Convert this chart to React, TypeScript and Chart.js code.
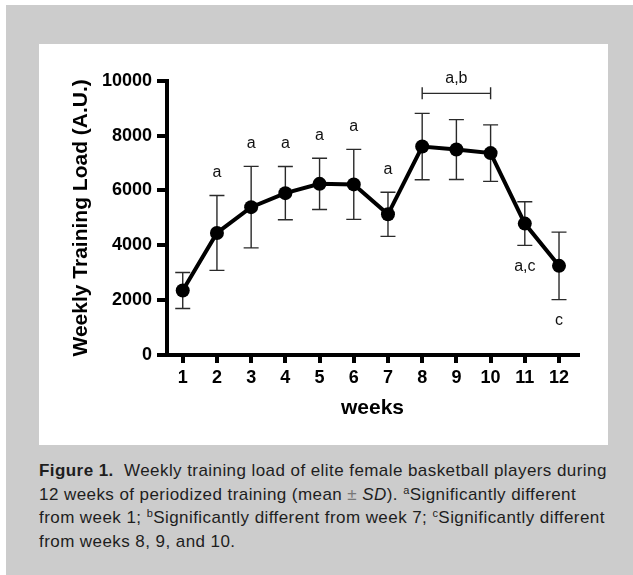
import React, { useEffect, useRef } from "react";
import { Chart, registerables } from "chart.js";

Chart.register(...registerables);

// ---- data ----
const weeks = [1, 2, 3, 4, 5, 6, 7, 8, 9, 10, 11, 12];
const meanLoad = [2350, 4450, 5390, 5900, 6240, 6220, 5130, 7600, 7490, 7360, 4790, 3250];
const sdLoad = [655, 1365, 1485, 970, 935, 1275, 805, 1210, 1090, 1030, 795, 1230];
const sigLabels = ["", "a", "a", "a", "a", "a", "a", "", "", "", "a,c", "c"];
const sigBelow = [false, false, false, false, false, false, false, false, false, false, true, true];
const bracketWeeks = [8, 10];
const bracketLabel = "a,b";
const yTicks = [0, 2000, 4000, 6000, 8000, 10000];

const FONT = "'Liberation Sans', Arial, Helvetica, sans-serif";

const errorBarPlugin = {
  id: "errorBarsAndLabels",
  beforeDatasetsDraw(chart: any) {
    const { ctx, scales } = chart;
    const x = scales.x;
    const y = scales.y;
    ctx.save();
    ctx.strokeStyle = "#2a2a2a";
    ctx.lineWidth = 1.4;
    weeks.forEach((w, i) => {
      const px = x.getPixelForValue(w);
      const top = y.getPixelForValue(meanLoad[i] + sdLoad[i]);
      const bot = y.getPixelForValue(meanLoad[i] - sdLoad[i]);
      ctx.beginPath();
      ctx.moveTo(px, top);
      ctx.lineTo(px, bot);
      ctx.moveTo(px - 7.5, top);
      ctx.lineTo(px + 7.5, top);
      ctx.moveTo(px - 7.5, bot);
      ctx.lineTo(px + 7.5, bot);
      ctx.stroke();
    });
    ctx.restore();
  },
  afterDatasetsDraw(chart: any) {
    const { ctx, scales } = chart;
    const x = scales.x;
    const y = scales.y;
    ctx.save();
    ctx.fillStyle = "#111";
    ctx.font = `16px ${FONT}`;
    ctx.textAlign = "center";
    ctx.textBaseline = "middle";
    weeks.forEach((w, i) => {
      const lab = sigLabels[i];
      if (!lab) return;
      const px = x.getPixelForValue(w);
      if (sigBelow[i]) {
        const bot = y.getPixelForValue(meanLoad[i] - sdLoad[i]);
        ctx.fillText(lab, px, bot + 21);
      } else {
        const top = y.getPixelForValue(meanLoad[i] + sdLoad[i]);
        ctx.fillText(lab, px, top - 22.5);
      }
    });
    // bracket
    const i0 = weeks.indexOf(bracketWeeks[0]);
    const i1 = weeks.indexOf(bracketWeeks[1]);
    let topMost = Infinity;
    for (let i = i0; i <= i1; i++) {
      topMost = Math.min(topMost, y.getPixelForValue(meanLoad[i] + sdLoad[i]));
    }
    const by = topMost - 20;
    const bx0 = x.getPixelForValue(bracketWeeks[0]);
    const bx1 = x.getPixelForValue(bracketWeeks[1]);
    ctx.strokeStyle = "#2a2a2a";
    ctx.lineWidth = 1.4;
    ctx.beginPath();
    ctx.moveTo(bx0, by);
    ctx.lineTo(bx1, by);
    ctx.moveTo(bx0, by - 6);
    ctx.lineTo(bx0, by + 6);
    ctx.moveTo(bx1, by - 6);
    ctx.lineTo(bx1, by + 6);
    ctx.stroke();
    ctx.fillText(bracketLabel, (bx0 + bx1) / 2, by - 15);
    ctx.restore();
  },
};

function ChartPanel() {
  const ref = useRef<HTMLCanvasElement | null>(null);
  useEffect(() => {
    if (!ref.current) return;
    const chart = new Chart(ref.current, {
      type: "line",
      data: {
        datasets: [
          {
            data: weeks.map((w, i) => ({ x: w, y: meanLoad[i] })),
            borderColor: "#000",
            backgroundColor: "#000",
            borderWidth: 4,
            pointRadius: 7,
            pointBackgroundColor: "#000",
            pointBorderWidth: 0,
            tension: 0,
          },
        ],
      },
      options: {
        animation: false,
        responsive: false,
        devicePixelRatio: 1,
        layout: { padding: { left: 0, right: 30, top: 36.7, bottom: 0 } },
        plugins: { legend: { display: false }, tooltip: { enabled: false } },
        scales: {
          x: {
            type: "linear",
            min: 0.54,
            max: 12.555,
            afterBuildTicks: (s: any) => {
              s.ticks = weeks.map((v) => ({ value: v }));
            },
            afterFit: (s: any) => {
              s.height = 90;
            },
            grid: {
              display: true,
              drawOnChartArea: false,
              drawTicks: true,
              tickLength: 8,
              lineWidth: 4,
              color: "#000",
            },
            border: { display: true, width: 4, color: "#000" },
            ticks: {
              font: { size: 18, weight: "bold", family: FONT },
              color: "#000",
              padding: 4,
              maxRotation: 0,
              autoSkip: false,
              callback: (v: any) => String(v),
            },
            title: {
              display: true,
              text: "weeks",
              font: { size: 21, weight: "bold", family: FONT },
              color: "#000",
              padding: { top: 0, bottom: 24.4 },
            },
          },
          y: {
            type: "linear",
            min: 0,
            max: 10000,
            afterBuildTicks: (s: any) => {
              s.ticks = yTicks.map((v) => ({ value: v }));
            },
            afterFit: (s: any) => {
              s.width = 128;
            },
            grid: {
              display: true,
              drawOnChartArea: false,
              drawTicks: true,
              tickLength: 10,
              lineWidth: 4,
              color: "#000",
            },
            border: { display: true, width: 4, color: "#000" },
            ticks: {
              font: { size: 18, weight: "bold", family: FONT },
              color: "#000",
              padding: 5,
              callback: (v: any) => String(v),
            },
            title: {
              display: true,
              text: "Weekly Training Load (A.U.)",
              font: { size: 21, weight: "bold", family: FONT },
              color: "#000",
              padding: { top: 29.4, bottom: 0 },
            },
          },
        },
      },
      plugins: [errorBarPlugin],
    } as any);
    return () => chart.destroy();
  }, []);
  return <canvas ref={ref} width={569} height={401} style={{ display: "block", width: 569, height: 401 }} />;
}

const supStyle: React.CSSProperties = { fontSize: 11, position: "relative", top: -6, lineHeight: 0 };

export default function App() {
  return (
    <div style={{ position: "absolute", left: 0, top: 0, width: 633, height: 575, background: "#fff", overflow: "hidden" }}>
      <div style={{ position: "absolute", left: 6, top: 5, width: 627, height: 570, background: "#cccccc" }} />
      <div style={{ position: "absolute", left: 39, top: 44, width: 569, height: 401, background: "#fff" }}>
        <ChartPanel />
      </div>
      <div
        style={{
          position: "absolute",
          left: 39,
          top: 459,
          width: 590,
          fontFamily: FONT,
          fontSize: 17,
          letterSpacing: "0.43px",
          lineHeight: "23.7px",
          color: "#1e1e1e",
          whiteSpace: "nowrap",
        }}
      >
        <div>
          <b>Figure 1.</b>&nbsp; Weekly training load of elite female basketball players during
        </div>
        <div>
          12 weeks of periodized training (mean <span style={{ color: "#777" }}>±</span> <i>SD</i>). <span style={supStyle}>a</span>Significantly different
        </div>
        <div>
          from week 1; <span style={supStyle}>b</span>Significantly different from week 7; <span style={supStyle}>c</span>Significantly different
        </div>
        <div>from weeks 8, 9, and 10.</div>
      </div>
    </div>
  );
}
